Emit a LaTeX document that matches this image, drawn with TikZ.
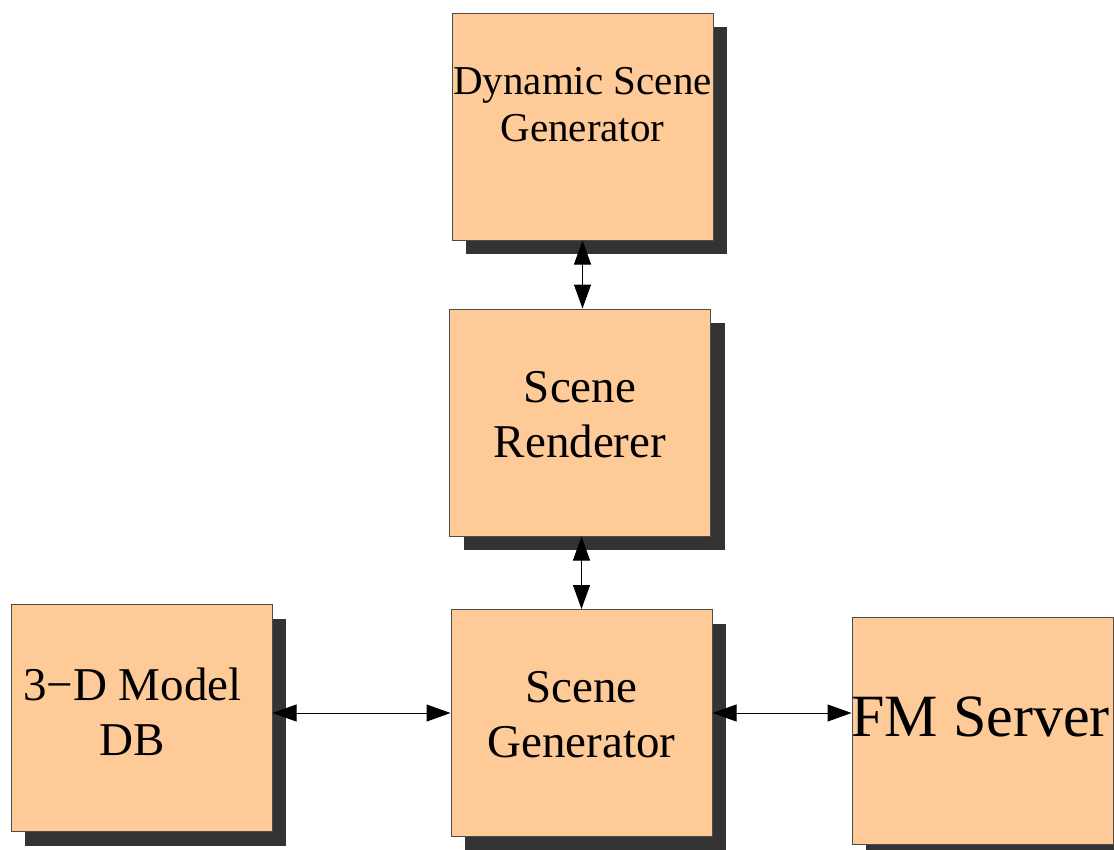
\documentclass[tikz,border=0pt]{standalone}
\usepackage{fontspec}
\setmainfont{Liberation Serif}
\usetikzlibrary{arrows.meta}
\usetikzlibrary{shadows}

\definecolor{boxfill}{RGB}{253,202,152}
\definecolor{shadowgray}{RGB}{51,51,51}

\begin{document}
\begin{tikzpicture}[x=1pt,y=-1pt,>/.tip={Triangle[length=24pt,width=17pt]},
	block/.style={draw=black!70,line width=1pt,fill=boxfill,minimum width=261pt,minimum height=227pt,inner sep=0pt,
		drop shadow={shadow xshift=14pt,shadow yshift=-14pt,opacity=1,fill=shadowgray}},
	caption/.style={align=center,inner sep=0pt,font=\fontsize{47}{55}\selectfont}]
	\clip (0,0) rectangle (1114,849);
	\draw (582.5,126.5) node (dsg) [block] {};
	\draw (580,422.5) node (rend) [block] {};
	\draw (581.5,723) node (gen) [block] {};
	\draw (141.5,718) node (db) [block] {};
	\draw (982.5,730.5) node (fm) [block] {};
	\node (dsgtext) [caption,font=\fontsize{41}{47}\selectfont] at ([yshift=22pt]dsg.center) {Dynamic Scene\\Generator};
	\node (rendtext) [caption] at ([yshift=8pt]rend.center) {Scene\\Renderer};
	\node (gentext) [caption] at ([yshift=8.5pt]gen.center) {Scene\\Generator};
	\node (dbtext) [caption] at ([xshift=-9pt,yshift=6.5pt]db.center) {3−D Model\\DB};
	\node (fmtext) [caption,font=\fontsize{60}{70}\selectfont] at ([xshift=-2pt,yshift=13.5pt]fm.center) {FM Server};

	\draw[<->,line width=1pt] (dsg.south) -- (dsg.south |- rend.north);
	\draw[<->,line width=1pt] (gen.north |- rend.south) -- (gen.north);
	\draw[<->,line width=1pt] ([yshift=5pt]db.east) -- ([yshift=5pt]db.east -| gen.west);
	\draw[<->,line width=1pt] ([yshift=10pt]gen.east) -- ([yshift=10pt]gen.east -| fm.west);
\end{tikzpicture}
\end{document}
